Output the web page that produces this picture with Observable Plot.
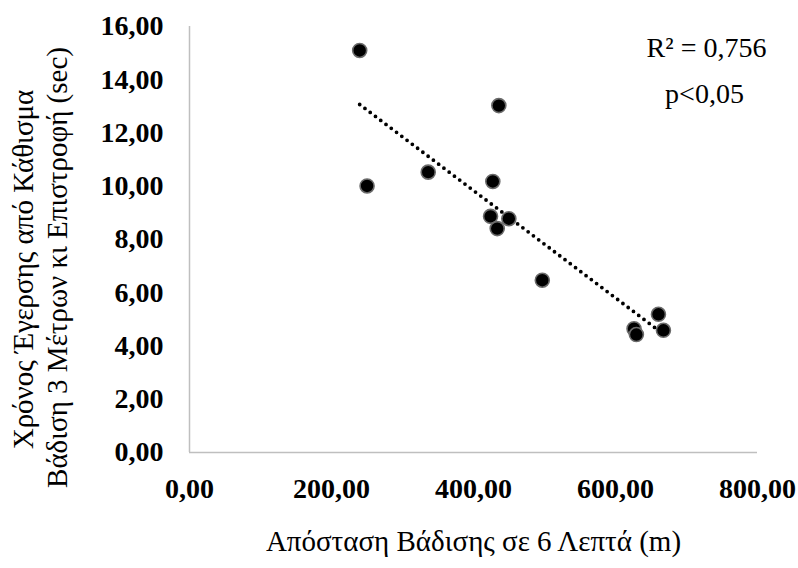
<!DOCTYPE html>
<html>
<head>
<meta charset="utf-8">
<script src="https://cdn.jsdelivr.net/npm/d3@7"></script>
<script src="https://cdn.jsdelivr.net/npm/@observablehq/plot@0.6"></script>
<style>
  html, body { margin: 0; padding: 0; background: #fff; }
  #chart svg { display: block; }
  .bold text { font-weight: bold; }
</style>
</head>
<body>
<div id="chart"></div>
<script>
// Distance walked in 6 minutes (m)
const distance = [239.7, 435.7, 250.1, 336.2, 427.2, 424.0, 449.8, 433.4, 496.9, 660.5, 626.1, 629.4, 667.5];
// Timed Up and Go time (sec)
const tugTime  = [15.10, 13.03, 10.01, 10.53, 10.18, 8.87, 8.78, 8.41, 6.47, 5.19, 4.65, 4.43, 4.59];

const xTicks = [0, 200, 400, 600, 800];
const yTicks = [0, 2, 4, 6, 8, 10, 12, 14, 16];

const xTitle = "Απόσταση Βάδισης σε 6 Λεπτά (m)";
const yTitleLines = ["Χρόνος Έγερσης από Κάθισμα", "Βάδιση 3 Μέτρων κι Επιστροφή (sec)"];
const annotations = ["R² = 0,756", "p<0,05"];

const data = distance.map((d, i) => ({x: d, y: tugTime[i]}));
const fmt = v => v.toFixed(2).replace(".", ",");

const W = 798, H = 568;
const mL = 189, mR = 41, mT = 26, mB = 116;
const serif = "'Liberation Serif', 'Times New Roman', serif";

const chart = Plot.plot({
  width: W,
  height: H,
  marginLeft: mL,
  marginRight: mR,
  marginTop: mT,
  marginBottom: mB,
  style: {fontFamily: serif, background: "#fff", color: "#000"},
  x: {domain: [0, 800]},
  y: {domain: [0, 16]},
  marks: [
    Plot.ruleY([0], {stroke: "#bfbfbf", strokeWidth: 1.5}),
    Plot.ruleX([0], {stroke: "#bfbfbf", strokeWidth: 1.5}),
    Plot.axisX({ticks: xTicks, tickSize: 0, tickPadding: 26, tickFormat: fmt, fontSize: 28, label: null, className: "bold"}),
    Plot.axisY({ticks: yTicks, tickSize: 0, tickPadding: 26, tickFormat: fmt, fontSize: 28, label: null, className: "bold"}),
    Plot.linearRegressionY(data, {x: "x", y: "y", ci: 0, stroke: "#000", strokeWidth: 3.8, strokeDasharray: "0,6.6", strokeLinecap: "round"}),
    Plot.dot(data, {x: "x", y: "y", r: 7, fill: "#000", stroke: "#6b6b6b", strokeWidth: 1.6}),
    Plot.text([xTitle], {frameAnchor: "bottom", dy: 98, fontSize: 29, lineAnchor: "bottom", fontFamily: serif}),
    Plot.text([yTitleLines[0]], {frameAnchor: "left", textAnchor: "middle", dx: -mL + 23, dy: 30, rotate: -90, fontSize: 29, fontFamily: serif}),
    Plot.text([yTitleLines[1]], {frameAnchor: "left", textAnchor: "middle", dx: -mL + 57, dy: 28, rotate: -90, fontSize: 29, fontFamily: serif}),
    Plot.text([annotations[0]], {frameAnchor: "top-right", textAnchor: "middle", lineAnchor: "top", dx: -51, dy: 11, fontSize: 28, fontFamily: serif}),
    Plot.text([annotations[1]], {frameAnchor: "top-right", textAnchor: "middle", lineAnchor: "top", dx: -53, dy: 57, fontSize: 28, fontFamily: serif})
  ]
});
document.getElementById("chart").appendChild(chart);
</script>
</body>
</html>
